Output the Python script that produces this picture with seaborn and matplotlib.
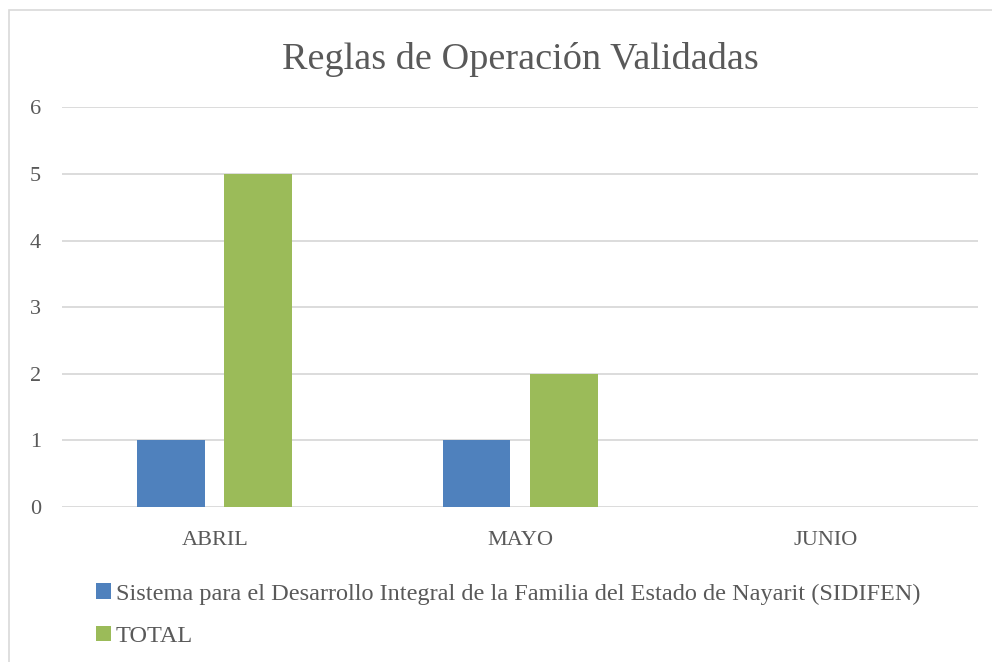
import pandas as pd
import seaborn as sns
import matplotlib.pyplot as plt
from matplotlib.patches import Rectangle

# Datos
meses = ["ABRIL", "MAYO", "JUNIO"]
sidifen = [1, 1, 0]
total = [5, 2, 0]
series = ["Sistema para el Desarrollo Integral de la Familia del Estado de Nayarit (SIDIFEN)", "TOTAL"]
colores = ["#4F81BD", "#9BBB59"]

df = pd.DataFrame({
    "Mes": meses * 2,
    "Valor": sidifen + total,
    "Serie": [series[0]] * 3 + [series[1]] * 3,
})

sns.set_theme(style="white")
plt.rcParams["font.family"] = ["Liberation Serif", "DejaVu Serif"]

fig = plt.figure(figsize=(9.92, 6.62), dpi=100)
ax = fig.add_axes([0.0625, 0.234, 0.9235, 0.604])

sns.barplot(data=df, x="Mes", y="Valor", hue="Serie", palette=colores,
            saturation=1, width=0.57, gap=0.22, linewidth=0,
            ax=ax, legend=True, zorder=3)

ax.set_ylim(0, 6)
ax.set_yticks(range(0, 7))
ax.grid(axis="y", color="#D9D9D9", linewidth=1.3, zorder=0)
for s in ax.spines.values():
    s.set_visible(False)
ax.tick_params(axis="both", length=0, labelsize=16, labelcolor="#595959")
ax.tick_params(axis="x", pad=17)
ax.tick_params(axis="y", pad=23)
ax.set_xlabel("")
ax.set_ylabel("")
for lbl in ax.get_yticklabels():
    lbl.set_horizontalalignment("left")

fig.text(0.525, 0.91, "Reglas de Operación Validadas", fontsize=27.5,
         color="#595959", ha="center", va="center")

handles, labels = ax.get_legend_handles_labels()
ax.get_legend().remove()
fig.legend(handles, labels, loc="upper left", bbox_to_anchor=(0.075, 0.152),
           ncol=1, frameon=False, fontsize=17.5, labelcolor="#595959",
           handlelength=0.6, handleheight=0.6, handletextpad=0.2, labelspacing=0.88)

# Marco del gráfico
fig.patches.append(Rectangle((0.009, -0.05), 1.1, 1.035, transform=fig.transFigure,
                             fill=False, edgecolor="#D9D9D9", linewidth=1.2))

plt.savefig("out.png")
plt.close()
